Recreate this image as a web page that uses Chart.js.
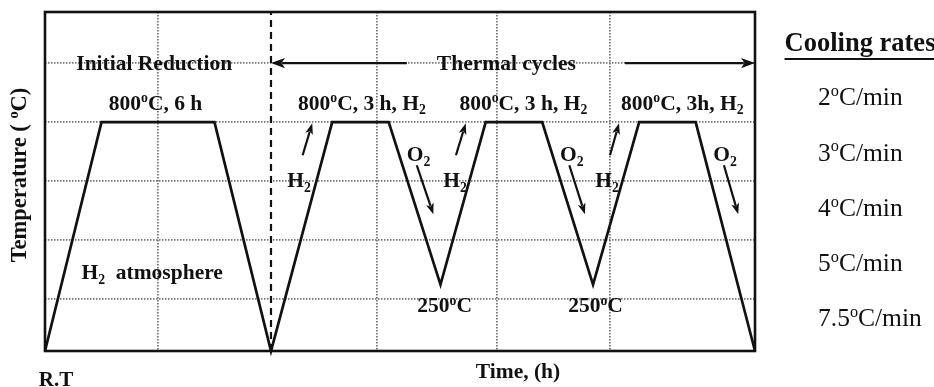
<!DOCTYPE html>
<html>
<head>
<meta charset="utf-8">
<script src="https://cdn.jsdelivr.net/npm/chart.js@4/dist/chart.umd.min.js"></script>
<style>
  html, body { margin: 0; padding: 0; background: #fff; }
  #wrap { width: 934px; height: 387px; }
</style>
</head>
<body>
<div id="wrap"><canvas id="c" width="934" height="387"></canvas></div>
<script>
// Temperature programme: initial reduction followed by three redox thermal cycles
const profileTime = [0, 3, 9, 12, 15.25, 18.25, 21.0, 23.4, 26.4, 29.1, 31.55, 34.55, 37.7]; // h
const profileTemp = [25, 800, 800, 25, 800, 800, 250, 800, 800, 250, 800, 800, 25];          // °C

// Boundary between the initial reduction and the thermal cycles
const dividerTime = [12, 12];
const dividerTemp = [25, 1173];

// Guide lines
const timeGrid = [6, 17.6, 24, 30];
const tempGrid = [200, 400, 600, 800, 1000];

// Cooling rates listed beside the plot
const coolingRates = ['2', '3', '4', '5', '7.5'];

const FONT = '"Liberation Serif", "Times New Roman", serif';

// Text labels inside the plot: [time, temp, parts]; parts are [text, '' | 'sup' | 'sub']
const plotLabels = [
  [5.8, 1000, [['Initial Reduction', '']]],
  [24.5, 1000, [['Thermal cycles', '']]],
  [5.87, 865, [['800', ''], ['o', 'sup'], ['C, 6 h', '']]],
  [16.83, 865, [['800', ''], ['o', 'sup'], ['C, 3 h, H', ''], ['2', 'sub']]],
  [25.4, 865, [['800', ''], ['o', 'sup'], ['C, 3 h, H', ''], ['2', 'sub']]],
  [33.84, 865, [['800', ''], ['o', 'sup'], ['C, 3h, H', ''], ['2', 'sub']]],
  [13.49, 603, [['H', ''], ['2', 'sub']]],
  [21.77, 603, [['H', ''], ['2', 'sub']]],
  [29.84, 603, [['H', ''], ['2', 'sub']]],
  [19.84, 691, [['O', ''], ['2', 'sub']]],
  [27.97, 691, [['O', ''], ['2', 'sub']]],
  [36.11, 691, [['O', ''], ['2', 'sub']]],
  [5.69, 292, [['H', ''], ['2', 'sub'], ['  atmosphere', '']]],
  [21.22, 180, [['250', ''], ['o', 'sup'], ['C', '']]],
  [29.23, 180, [['250', ''], ['o', 'sup'], ['C', '']]]
];

// Arrows: [fromTime, fromTemp, toTime, toTemp, headLength]
const plotArrows = [
  [19.21, 1000, 12, 1000, 14],
  [30.8, 1000, 37.7, 1000, 14],
  [13.68, 688, 14.19, 796, 11],
  [21.82, 688, 22.34, 796, 11],
  [30.0, 688, 30.48, 796, 11],
  [19.74, 654, 20.62, 488, 11],
  [27.84, 654, 28.67, 488, 11],
  [36.05, 654, 36.81, 488, 11]
];

function toPoints(xs, ys) { return xs.map((x, i) => ({ x: x, y: ys[i] })); }

function drawRich(ctx, x, y, parts, size, weight, align) {
  const fontFor = (mode) => weight + ' ' + (mode ? size * 0.64 : size) + 'px ' + FONT;
  let total = 0;
  const widths = parts.map(([t, m]) => { ctx.font = fontFor(m); const w = ctx.measureText(t).width; total += w; return w; });
  let cx = align === 'left' ? x : x - total / 2;
  const base = y + size * 0.33;
  ctx.textAlign = 'left';
  ctx.textBaseline = 'alphabetic';
  parts.forEach(([t, m], i) => {
    ctx.font = fontFor(m);
    const dy = m === 'sup' ? -size * 0.36 : (m === 'sub' ? size * 0.2 : 0);
    ctx.fillText(t, cx, base + dy);
    cx += widths[i];
  });
  return total;
}

function drawArrow(ctx, x1, y1, x2, y2, head, width) {
  const ang = Math.atan2(y2 - y1, x2 - x1);
  const hw = head * 0.36;
  const c = Math.cos(ang), s = Math.sin(ang);
  ctx.beginPath();
  ctx.moveTo(x1, y1);
  ctx.lineTo(x2 - c * head * 0.8, y2 - s * head * 0.8);
  ctx.lineWidth = width;
  ctx.stroke();
  ctx.beginPath();
  ctx.moveTo(x2, y2);
  ctx.lineTo(x2 - c * head + s * hw, y2 - s * head - c * hw);
  ctx.lineTo(x2 - c * head * 0.75, y2 - s * head * 0.75);
  ctx.lineTo(x2 - c * head - s * hw, y2 - s * head + c * hw);
  ctx.closePath();
  ctx.fill();
}

const decorations = {
  id: 'decorations',
  afterDraw(chart) {
    const { ctx, chartArea: a, scales: { x, y } } = chart;
    ctx.save();
    ctx.strokeStyle = '#111';
    ctx.fillStyle = '#111';

    // frame
    ctx.lineWidth = 2.6;
    ctx.strokeRect(a.left, a.top, a.right - a.left, a.bottom - a.top);

    // arrows
    plotArrows.forEach(([t1, v1, t2, v2, h]) => {
      drawArrow(ctx, x.getPixelForValue(t1), y.getPixelForValue(v1),
                x.getPixelForValue(t2), y.getPixelForValue(v2), h, h > 12 ? 2.4 : 2.2);
    });

    // labels inside the plot
    plotLabels.forEach(([t, v, parts]) => {
      drawRich(ctx, x.getPixelForValue(t), y.getPixelForValue(v), parts, 21.5, 'bold', 'center');
    });

    // axis titles
    drawRich(ctx, 518, 371, [['Time, (h)', '']], 21.5, 'bold', 'center');
    drawRich(ctx, 56, 379, [['R.T', '']], 21, 'bold', 'center');
    ctx.save();
    ctx.translate(19, 175);
    ctx.rotate(-Math.PI / 2);
    drawRich(ctx, 0, 0, [['Temperature ( ', ''], ['o', 'sup'], ['C)', '']], 22.5, 'bold', 'center');
    ctx.restore();

    // cooling rate list
    const w = drawRich(ctx, 860, 42, [['Cooling rates', '']], 26.5, 'bold', 'center');
    ctx.lineWidth = 2.2;
    ctx.beginPath();
    ctx.moveTo(860 - w / 2, 59);
    ctx.lineTo(860 + w / 2, 59);
    ctx.stroke();
    coolingRates.forEach((r, i) => {
      drawRich(ctx, 818, 97 + i * 55.2, [[r, ''], ['o', 'sup'], ['C/min', '']], 25.5, 'normal', 'left');
    });
    ctx.restore();
  }
};

const gridStyle = { color: '#777', lineWidth: 1.8, drawTicks: false };
const gridBorder = { display: false, dash: [1.5, 1.5] };

new Chart(document.getElementById('c'), {
  type: 'scatter',
  data: {
    datasets: [
      {
        data: toPoints(profileTime, profileTemp),
        showLine: true,
        borderColor: '#111',
        borderWidth: 2.7,
        pointRadius: 0,
        tension: 0,
        clip: false
      },
      {
        data: toPoints(dividerTime, dividerTemp),
        showLine: true,
        borderColor: '#111',
        borderWidth: 2.2,
        borderDash: [7, 5],
        pointRadius: 0,
        clip: false
      }
    ]
  },
  options: {
    responsive: false,
    animation: false,
    layout: { padding: { left: 45, top: 12, right: 179, bottom: 36 } },
    plugins: { legend: { display: false }, tooltip: { enabled: false } },
    scales: {
      x: {
        type: 'linear', min: 0, max: 37.7,
        afterBuildTicks: (s) => { s.ticks = timeGrid.map(v => ({ value: v })); },
        ticks: { display: false },
        border: gridBorder,
        grid: gridStyle
      },
      y: {
        type: 'linear', min: 25, max: 1173,
        afterBuildTicks: (s) => { s.ticks = tempGrid.map(v => ({ value: v })); },
        ticks: { display: false },
        border: gridBorder,
        grid: gridStyle
      }
    }
  },
  plugins: [decorations]
});
</script>
</body>
</html>
